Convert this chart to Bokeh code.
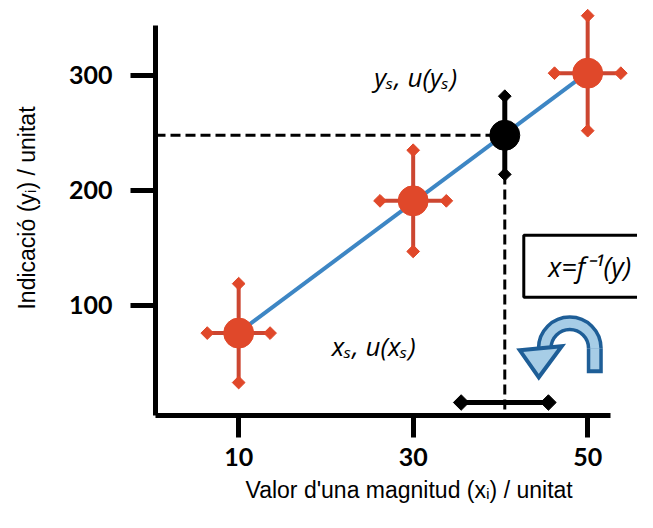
import numpy as np
from bokeh.plotting import figure
from bokeh.models import Range1d, FixedTicker, BoxAnnotation, Title
from bokeh.embed import file_html
from bokeh.resources import INLINE
from bokeh.core.properties import value

# ---- data ----
x_cal = [10, 30, 50]          # calibration standards
y_cal = [76, 191, 302]        # indications
ux_cal = [3.6, 3.8, 3.8]      # u(x_i)
uy_cal = [43, 44, 50]         # u(y_i)
xs_val = 40.5                 # x_s
ys_val = 248                  # y_s
uxs_val = 5.0                 # u(x_s)
uys_val = 34                  # u(y_s)
x_ticks = [10, 30, 50]
y_ticks = [100, 200, 300]
x_title = "Valor d'una magnitud (xᵢ) / unitat"
y_title = "Indicació (yᵢ) / unitat"

# ---- layout ----
W, H = 637, 512
LB, BB = 155, 97
FW, FH = W - LB, H - BB
x0, x1 = 0.468, 55.71
y0, y1 = 4.35, 365.2
kx = FW / (x1 - x0)
ky = FH / (y1 - y0)
def dx(px): return px / kx
def dy(px): return px / ky

RED = "#E0482A"
RED_BAR = "#CC4631"
BLUE = "#3D86C4"
DARK = "#1E5E97"
LIGHT = "#A7CDE6"

p = figure(width=W, height=H, output_backend="svg", toolbar_location=None,
           x_range=Range1d(x0, x1), y_range=Range1d(y0, y1),
           min_border_left=LB, min_border_right=0, min_border_top=0,
           min_border_bottom=BB)
p.outline_line_color = None
p.grid.visible = False
p.background_fill_color = "white"

for ax in (p.xaxis, p.yaxis):
    ax.axis_line_width = 5
    ax.axis_line_color = "black"
    ax.major_tick_line_width = 5
    ax.major_tick_line_color = "black"
    ax.major_tick_in = 0
    ax.minor_tick_line_color = None
    ax.major_label_text_font = "Lato"
    ax.major_label_text_font_style = "bold"
    ax.major_label_text_font_size = "25px"
    ax.major_label_text_color = "black"
    ax.axis_label_text_font = "Liberation Sans"
    ax.axis_label_text_font_style = "normal"
    ax.axis_label_text_font_size = "23px"
    ax.axis_label_text_color = "black"

p.xaxis.ticker = FixedTicker(ticks=x_ticks)
p.xaxis.bounds = (x0, 52.6)
p.xaxis.major_tick_out = 22
p.xaxis.major_label_standoff = 10

p.yaxis.ticker = FixedTicker(ticks=y_ticks)
p.yaxis.bounds = (y0, 343.5)
p.yaxis.major_tick_out = 25
p.yaxis.major_label_standoff = 18
p.yaxis.axis_label = y_title
p.yaxis.axis_label_standoff = 26

# x-axis title (placed as a bottom title so it can sit off-centre like the original)
p.add_layout(Title(text=x_title, align="left", offset=90, standoff=13,
                   text_font="Liberation Sans", text_font_size="23px",
                   text_font_style="normal", text_color="black"), "below")

# dashed guide lines
p.segment(x0=[x0], y0=[ys_val], x1=[xs_val], y1=[ys_val],
          line_color="black", line_width=3, line_dash="10 5")
p.segment(x0=[xs_val], y0=[ys_val - uys_val], x1=[xs_val], y1=[y0],
          line_color="black", line_width=3, line_dash="10 5")

# calibration line (least squares)
b, a = np.polyfit(x_cal, y_cal, 1)
lx = np.array([x_cal[0], x_cal[-1]])
p.line(lx, a + b * lx, line_color=BLUE, line_width=4)

# calibration error bars
xc = np.array(x_cal, float); yc = np.array(y_cal, float)
uxc = np.array(ux_cal); uyc = np.array(uy_cal, float)
p.segment(x0=xc, y0=yc - uyc, x1=xc, y1=yc + uyc, line_color=RED_BAR, line_width=4)
p.segment(x0=xc - uxc, y0=yc, x1=xc + uxc, y1=yc, line_color=RED_BAR, line_width=4)
ex = np.concatenate([xc, xc, xc - uxc, xc + uxc])
ey = np.concatenate([yc - uyc, yc + uyc, yc, yc])
p.scatter(ex, ey, marker="square", angle=np.pi / 4, size=9,
          fill_color=RED, line_color=RED)
p.scatter(xc, yc, marker="circle", size=30, fill_color=RED, line_color=RED)

# sample point y_s with u(y_s)
p.segment(x0=[xs_val], y0=[ys_val - uys_val], x1=[xs_val], y1=[ys_val + uys_val],
          line_color="black", line_width=5)
p.scatter([xs_val, xs_val], [ys_val - uys_val, ys_val + uys_val], marker="square",
          angle=np.pi / 4, size=9, fill_color="black", line_color="black")
p.scatter([xs_val], [ys_val], marker="circle", size=30, fill_color="black",
          line_color="black")

# x_s with u(x_s) just above the x axis
ybar = y0 + dy(13)
p.segment(x0=[xs_val - uxs_val], y0=[ybar], x1=[xs_val + uxs_val], y1=[ybar],
          line_color="black", line_width=5)
p.scatter([xs_val - uxs_val, xs_val + uxs_val], [ybar, ybar], marker="square",
          angle=np.pi / 4, size=11, fill_color="black", line_color="black")

# labels
lab = dict(text_font=value("Open Sans"), text_font_style="italic",
           text_color="black", text_align="center", text_baseline="middle")
p.text([xs_val], [ys_val], text=["yₛ, u(yₛ)"], x_offset=-89, y_offset=-58,
       text_font_size="26px", **lab)
p.text([xs_val], [ybar], text=["xₛ, u(xₛ)"], x_offset=-131, y_offset=-57,
       text_font_size="26px", **lab)
p.text([xs_val], [y0], text=["xₛ"], x_offset=-3, y_offset=25,
       text_font_size="26px", **lab)
p.text([x0], [ys_val], text=["yₛ"], x_offset=-41, y_offset=0,
       text_font_size="26px", **lab)

# inverse-function box
bl = xs_val + dx(19)
bt = ys_val - dy(100)
bb = bt - dy(62)
p.add_layout(BoxAnnotation(left=bl, right=x1 + 2, top=bt, bottom=bb,
                           fill_color="white", fill_alpha=1.0, level="underlay",
                           line_color="black", line_alpha=1.0, line_width=3))
p.text([bl], [(bt + bb) / 2], text=["x=f⁻¹(y)"], x_offset=66, y_offset=0,
       text_font_size="27px", **lab)

# curved arrow
axc = xs_val + dx(65)
ayc = bb - dy(51)
R = 25
p.arc(x=[axc], y=[ayc], radius=R, radius_units="screen", start_angle=0,
      end_angle=np.pi, line_color=DARK, line_width=16)
p.segment(x0=[axc + dx(R)], y0=[ayc], x1=[axc + dx(R)], y1=[ayc - dy(25)],
          line_color=DARK, line_width=16)
p.arc(x=[axc], y=[ayc], radius=R, radius_units="screen", start_angle=0,
      end_angle=np.pi, line_color=LIGHT, line_width=9)
p.segment(x0=[axc + dx(R)], y0=[ayc], x1=[axc + dx(R)], y1=[ayc - dy(21)],
          line_color=LIGHT, line_width=9)
hx = axc - dx(R)
head_x = [hx - dx(25), hx + dx(17), hx - dx(6)]
head_y = [ayc - dy(2), ayc + dy(2), ayc - dy(29)]
p.patch(head_x, head_y, fill_color=LIGHT, line_color=DARK, line_width=4,
        line_join="miter")

open("out.html", "w").write(file_html(p, INLINE))
